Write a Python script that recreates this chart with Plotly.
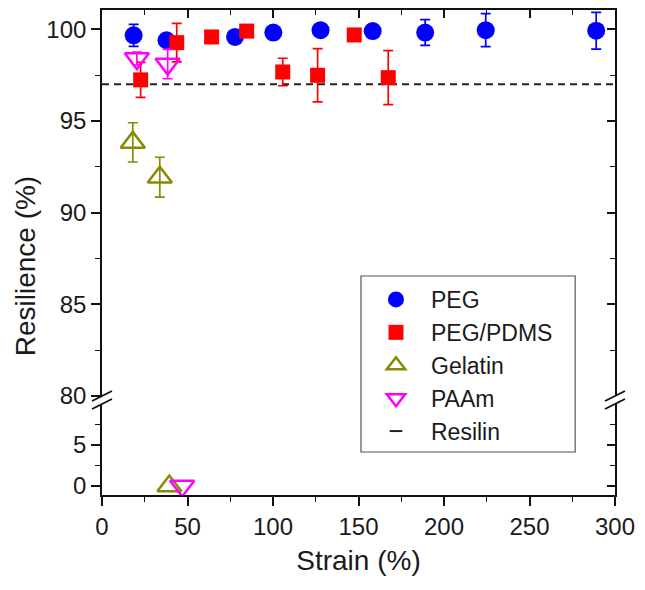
import plotly.graph_objects as go

# ---------------- data ----------------
peg_x = [18.5, 37.7, 77.8, 100.2, 127.8, 158.3, 189.0, 224.4, 289.0]
peg_y = [99.67, 99.40, 99.58, 99.82, 99.95, 99.90, 99.82, 99.95, 99.92]
peg_err = [0.6, 0.2, 0.2, 0.3, 0.2, 0.2, 0.7, 0.9, 1.0]

pdms_x = [22.6, 43.7, 64.1, 84.6, 105.7, 126.1, 147.5, 167.4]
pdms_y = [97.24, 99.27, 99.58, 99.90, 97.67, 97.49, 99.69, 97.36]
pdms_err = [0.95, 1.05, 0.15, 0.1, 0.75, 1.45, 0.15, 1.47]

gel_x = [18.0, 33.8]
gel_y = [93.83, 91.93]
gel_err = [1.07, 1.09]
gel_low_x = [39.4]
gel_low_y = [0.0]

paam_x = [20.4, 38.4]
paam_y = [98.40, 98.10]
paam_err = [0.35, 0.8]
paam_low_x = [46.9]
paam_low_y = [0.0]

resilin_x = [0, 300]
resilin_y = [97, 97]

x_ticks = [0, 50, 100, 150, 200, 250, 300]
upper_ticks = [80, 85, 90, 95, 100]
upper_minor = [82.5, 87.5, 92.5, 97.5]
lower_ticks = [0, 5]
lower_minor = [2.5, 7.5]

# ---------------- style ----------------
FONT = "Arial, Liberation Sans, sans-serif"
BLUE = "#0000FF"
RED = "#FF0000"
OLIVE = "#8A8A00"
MAGENTA = "#FF00FF"
AX = "#111111"
TXT = "#1a1a1a"

L, R, T, B = 102, 28, 10, 95
W, H = 645, 590
PW, PH = W - L - R, H - T - B

def py(p):  # pixel y -> paper
    return (H - B - p) / PH

def px(p):
    return (p - L) / PW

upper_dom = [py(396), 1]
lower_dom = [0, py(404)]
upper_rng = [80, 101.05]
lower_rng = [-1.1, 10.0]

fig = go.Figure()

# Resilin dashed line
fig.add_trace(go.Scatter(x=resilin_x, y=resilin_y, mode="lines", xaxis="x", yaxis="y2",
                         line=dict(color="#222222", width=2, dash="7px,5px"),
                         showlegend=False, hoverinfo="skip"))

def err(arr, color):
    return dict(type="data", array=arr, visible=True, color=color, thickness=1.7, width=5)

fig.add_trace(go.Scatter(x=peg_x, y=peg_y, mode="markers", name="PEG", xaxis="x", yaxis="y2",
                         marker=dict(symbol="circle", size=18, color=BLUE),
                         error_y=err(peg_err, BLUE)))
fig.add_trace(go.Scatter(x=pdms_x, y=pdms_y, mode="markers", name="PEG/PDMS", xaxis="x", yaxis="y2",
                         marker=dict(symbol="square", size=15, color=RED),
                         error_y=err(pdms_err, RED)))
fig.add_trace(go.Scatter(x=gel_x, y=gel_y, mode="markers", name="Gelatin", xaxis="x", yaxis="y2",
                         legendgroup="gel",
                         marker=dict(symbol="triangle-up-open", size=21, color=OLIVE,
                                     line=dict(width=2.5, color=OLIVE)),
                         error_y=err(gel_err, OLIVE)))
fig.add_trace(go.Scatter(x=paam_x, y=paam_y, mode="markers", name="PAAm", xaxis="x", yaxis="y2",
                         legendgroup="paam",
                         marker=dict(symbol="triangle-down-open", size=21, color=MAGENTA,
                                     line=dict(width=2.5, color=MAGENTA)),
                         error_y=err(paam_err, MAGENTA)))
fig.add_trace(go.Scatter(x=gel_low_x, y=gel_low_y, mode="markers", xaxis="x", yaxis="y",
                         legendgroup="gel", showlegend=False,
                         marker=dict(symbol="triangle-up-open", size=21, color=OLIVE,
                                     line=dict(width=2.5, color=OLIVE))))
fig.add_trace(go.Scatter(x=paam_low_x, y=paam_low_y, mode="markers", xaxis="x", yaxis="y",
                         legendgroup="paam", showlegend=False,
                         marker=dict(symbol="triangle-down-open", size=21, color=MAGENTA,
                                     line=dict(width=2.5, color=MAGENTA))))
# legend proxy for Resilin
fig.add_trace(go.Scatter(x=[None], y=[None], mode="markers", name="Resilin", xaxis="x", yaxis="y2",
                         marker=dict(symbol="line-ew-open", size=9, color="#222222",
                                     line=dict(width=2, color="#222222"))))
# invisible carriers so the top/right tick axes are drawn
fig.add_trace(go.Scatter(x=resilin_x, y=resilin_y, mode="markers", xaxis="x2", yaxis="y4",
                         marker=dict(opacity=0), showlegend=False, hoverinfo="skip"))
fig.add_trace(go.Scatter(x=gel_low_x, y=gel_low_y, mode="markers", xaxis="x", yaxis="y3",
                         marker=dict(opacity=0), showlegend=False, hoverinfo="skip"))

tickfont = dict(family=FONT, size=24, color=TXT)
base = dict(showgrid=False, zeroline=False, tickcolor=AX, tickwidth=1.6, tickfont=tickfont,
            linecolor=AX, linewidth=1.7)

def minor(vals=None, dtick=None, side="outside"):
    d = dict(ticks=side, ticklen=5, tickcolor=AX, tickwidth=1.4)
    if vals is not None:
        d["tickvals"] = vals
    if dtick is not None:
        d["dtick"] = dtick
    return d

fig.update_layout(
    width=W, height=H,
    margin=dict(l=L, r=R, t=T, b=B),
    paper_bgcolor="white", plot_bgcolor="white",
    font=dict(family=FONT, color=TXT),
    xaxis=dict(domain=[0, 1], range=[0, 300], anchor="y", tickvals=x_ticks, showline=True,
               ticks="outside", ticklen=9, minor=minor(dtick=25),
               title=dict(text="Strain (%)", font=dict(family=FONT, size=28, color=TXT), standoff=12),
               **base),
    xaxis2=dict(overlaying="x", range=[0, 300], anchor="y2", side="top", tickvals=x_ticks,
                showline=True, ticks="inside", ticklen=8, showticklabels=False,
                minor=minor(dtick=25, side="inside"), **base),
    yaxis=dict(domain=lower_dom, range=lower_rng, anchor="x", tickvals=lower_ticks,
               showline=True, mirror=True, ticks="outside", ticklen=9,
               minor=minor(vals=lower_minor), **base),
    yaxis2=dict(domain=upper_dom, range=upper_rng, anchor="x", tickvals=upper_ticks,
                showline=True, mirror=True, ticks="outside", ticklen=9,
                minor=minor(vals=upper_minor), **base),
    yaxis3=dict(overlaying="y", range=lower_rng, anchor="x", side="right", tickvals=lower_ticks,
                showline=False, ticks="inside", ticklen=8, showticklabels=False,
                minor=minor(vals=lower_minor, side="inside"), **base),
    yaxis4=dict(overlaying="y2", range=upper_rng, anchor="x", side="right", tickvals=upper_ticks,
                showline=False, ticks="inside", ticklen=8, showticklabels=False,
                minor=minor(vals=upper_minor, side="inside"), **base),
    legend=dict(x=px(362), y=py(278), xanchor="left", yanchor="top",
                bgcolor="rgba(0,0,0,0)", borderwidth=0,
                font=dict(family=FONT, size=23, color=TXT),
                itemwidth=60, tracegroupgap=0),
    showlegend=True,
)

# legend frame (decoration)
fig.add_shape(type="rect", xref="paper", yref="paper", layer="below",
              x0=px(362), x1=px(577), y0=py(452), y1=py(276),
              line=dict(color="#555555", width=1.2), fillcolor="white")

# y-axis title spanning both segments
fig.add_annotation(text="Resilience (%)", xref="paper", yref="paper", x=px(25), y=py(266),
                   textangle=-90, showarrow=False, xanchor="center", yanchor="middle",
                   font=dict(family=FONT, size=28, color=TXT))

# axis break marks (decoration)
for xb in (0, 1):
    for yb in (396, 404):
        fig.add_shape(type="line", xref="paper", yref="paper",
                      x0=xb - 10 / PW, y0=py(yb + 5), x1=xb + 10 / PW, y1=py(yb - 5),
                      line=dict(color=AX, width=1.9))

fig.write_html("out.html", config={"displayModeBar": False},
               post_script="document.body.style.margin='0px';")
